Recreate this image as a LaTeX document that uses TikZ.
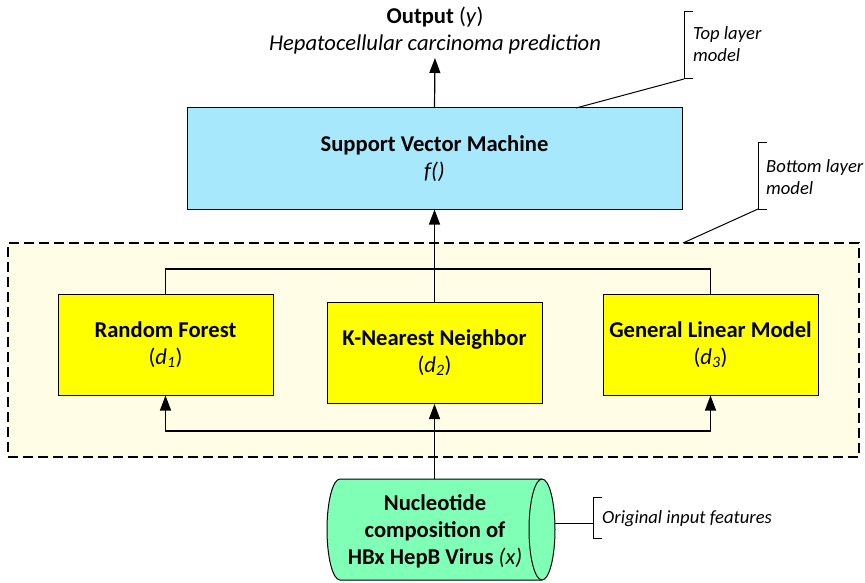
\documentclass[tikz,border=0pt]{standalone}
\usepackage{fontspec}
\setmainfont{Carlito}
\usetikzlibrary{arrows.meta}

\definecolor{svmblue}{RGB}{168,232,252}
\definecolor{baseyellow}{RGB}{255,255,0}
\definecolor{layerbg}{RGB}{255,253,230}
\definecolor{inputgreen}{RGB}{128,255,182}

\tikzset{
  mainfont/.style={font=\fontsize{22.6}{27}\selectfont},
  notefont/.style={font=\fontsize{18.6}{22}\selectfont\itshape},
  modelbox/.style={draw, line width=1pt, align=center, mainfont, inner sep=0pt},
  svmbox/.style={modelbox, fill=svmblue, minimum width=495pt, minimum height=101pt},
  basebox/.style={modelbox, fill=baseyellow, minimum width=215pt, minimum height=101pt},
  layerbox/.style={draw, fill=layerbg, line width=1.1pt, dash pattern=on 10pt off 5pt,
                   minimum width=851pt, minimum height=214pt, inner sep=0pt},
  flow/.style={line width=1.2pt, -{Triangle[length=15pt,width=11pt]}},
  link/.style={line width=1.2pt},
  note/.style={notefont, align=left, inner sep=0pt, anchor=west},
  brace/.style={line width=1pt},
}

\begin{document}
\begin{tikzpicture}[x=1pt, y=-1pt]
\useasboundingbox (0,0) rectangle (865,583);

% bottom layer frame
\node[layerbox] (layer) at (433.5,350) {};

% top layer model
\node[svmbox] (svm) at (434.5,158.5) {\textbf{Support Vector Machine}\\\textit{f()}};

% bottom layer models
\node[basebox] (rf)  at (165.5,344.5) {\textbf{Random Forest}\\(\textit{d\textsubscript{1}})};
\node[basebox] (knn) at (434.5,353)   {\textbf{K-Nearest Neighbor}\\(\textit{d\textsubscript{2}})};
\node[basebox] (glm) at (710.5,344.5) {\textbf{General Linear Model}\\(\textit{d\textsubscript{3}})};

% output label
\node[mainfont, align=center, inner sep=0pt] (out) at (435,31)
  {\textbf{Output} (\textit{y})\\\textit{Hepatocellular carcinoma prediction}};
\coordinate (outbase) at (435,58);

% input cylinder
\node[minimum width=228pt, minimum height=101pt, inner sep=0pt] (src) at (441,529.5) {};
\fill[inputgreen] (340,479) arc[start angle=270, end angle=90, x radius=13, y radius=50.5]
  -- (542,580) arc[start angle=90, end angle=-90, x radius=13, y radius=50.5] -- cycle;
\draw[line width=1pt] (542,479) -- (340,479)
  arc[start angle=270, end angle=90, x radius=13, y radius=50.5] -- (542,580);
\draw[line width=1pt, fill=inputgreen] (542,529.5) ellipse[x radius=13, y radius=50.5];
\node[mainfont, align=center, inner sep=0pt] (srctxt) at (435,531)
  {\textbf{Nucleotide}\\\textbf{composition of}\\\textbf{HBx HepB Virus} \textit{(x)}};

% connectors
\coordinate (topjoin) at (435,269);
\coordinate (botjoin) at (435,431);
\draw[flow] (svm.north) -- (outbase);
\draw[flow] (knn.north) -- (svm.south);
\draw[link] (rf.north) |- (topjoin) -| (glm.north);
\draw[flow] (src.north -| knn.south) -- (knn.south);
\draw[flow] (botjoin) -| (rf.south);
\draw[flow] (botjoin) -| (glm.south);

% annotations
\node[note] (topnote) at (693,44) {Top layer\\model};
\coordinate (topleader) at (576,108);
\draw[brace] (693,12) -- (684,12) -- (684,79) -- (693,79);
\draw[link, line width=1pt] (topleader) -- (684,79);

\node[note] (botnote) at (766,177.5) {Bottom layer\\model};
\coordinate (botleader) at (683,243);
\draw[brace] (767,143) -- (758,143) -- (758,209) -- (767,209);
\draw[link, line width=1pt] (botleader) -- (758,209);

\node[note] (innote) at (602,519) {Original input features};
\draw[brace] (602,497) -- (593,497) -- (593,538) -- (602,538);
\draw[link, line width=1pt] (555,523) -- (593,523);
\end{tikzpicture}
\end{document}
